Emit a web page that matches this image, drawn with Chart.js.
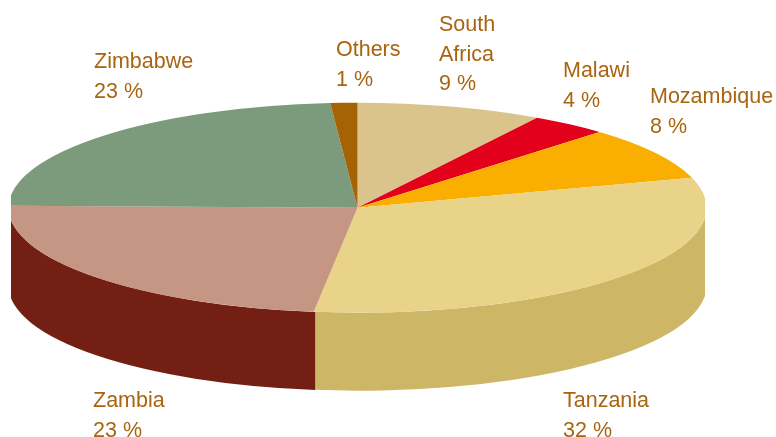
<!DOCTYPE html>
<html>
<head>
<meta charset="utf-8">
<title>Pie</title>
<script src="https://cdn.jsdelivr.net/npm/chart.js@4"></script>
<style>
  html, body { margin: 0; padding: 0; background: #fff; }
  canvas { display: block; }
</style>
</head>
<body>
<canvas id="pieChart" width="776" height="437"></canvas>
<script>
// data, clockwise from 12 o'clock
var categories = ['South Africa', 'Malawi', 'Mozambique', 'Tanzania', 'Zambia', 'Zimbabwe', 'Others'];
var shares = [8.6, 3.6, 8.2, 31.6, 23.3, 23.45, 1.25];

var topColors = ['#dbc48c', '#e3001b', '#f9ae00', '#e8d388', '#c59683', '#7c9a7c', '#a66305'];
var sideColors = ['#b8a168', '#a80014', '#c48900', '#cdb665', '#731f14', '#5d775d', '#7d4a04'];

// left edge and first baseline of each label
var labelSpots = [[439, 31], [563, 77], [650, 103], [563, 407], [93, 407], [94, 68], [336, 56]];

// flattened disc
var disc = { x: 357.5, y: 207.7, rx: 349, ry: 105, depth: 78, left: 11, right: 705 };

var tiltPlugin = {
    id: 'tilt',
    beforeDatasetsDraw: function(chart) {
        var ctx = chart.ctx;
        var arcs = chart.getDatasetMeta(0).data;
        ctx.save();
        ctx.beginPath();
        ctx.rect(disc.left, 0, disc.right - disc.left, chart.height);
        ctx.clip();

        // the wall, only the front half of the rim can be seen
        arcs.forEach(function(arc, i) {
            // small overlap so no pale seam shows between two walls
            var start = Math.max(arc.startAngle - 0.004, 0);
            var end = Math.min(arc.endAngle, Math.PI);
            if (end <= start) return;
            ctx.beginPath();
            ctx.ellipse(disc.x, disc.y, disc.rx, disc.ry, 0, start, end);
            ctx.ellipse(disc.x, disc.y + disc.depth, disc.rx, disc.ry, 0, end, start, true);
            ctx.closePath();
            ctx.fillStyle = sideColors[i];
            ctx.fill();
        });

        // the library then draws the slices flattened
        var first = arcs[0];
        ctx.translate(disc.x, disc.y);
        ctx.scale(disc.rx / first.outerRadius, disc.ry / first.outerRadius);
        ctx.translate(-first.x, -first.y);
    },
    afterDatasetsDraw: function(chart) {
        chart.ctx.restore();
    },
    afterDraw: function(chart) {
        var ctx = chart.ctx;
        ctx.save();
        ctx.font = '21.5px "Liberation Sans", Arial, sans-serif';
        ctx.fillStyle = '#a8640f';
        ctx.textAlign = 'left';
        ctx.textBaseline = 'alphabetic';
        categories.forEach(function(name, i) {
            var lines = name.split(' ');
            lines.push(Math.round(shares[i]) + ' %');
            lines.forEach(function(line, n) {
                ctx.fillText(line, labelSpots[i][0], labelSpots[i][1] + n * 29.5);
            });
        });
        ctx.restore();
    }
};

var pieChart = new Chart(document.getElementById('pieChart').getContext('2d'), {
    type: 'pie',
    data: {
        labels: categories,
        datasets: [{
            data: shares,
            backgroundColor: topColors,
            borderWidth: 0
        }]
    },
    options: {
        responsive: false,
        animation: false,
        plugins: {
            legend: { display: false },
            tooltip: { enabled: false }
        }
    },
    plugins: [tiltPlugin]
});
</script>
</body>
</html>
